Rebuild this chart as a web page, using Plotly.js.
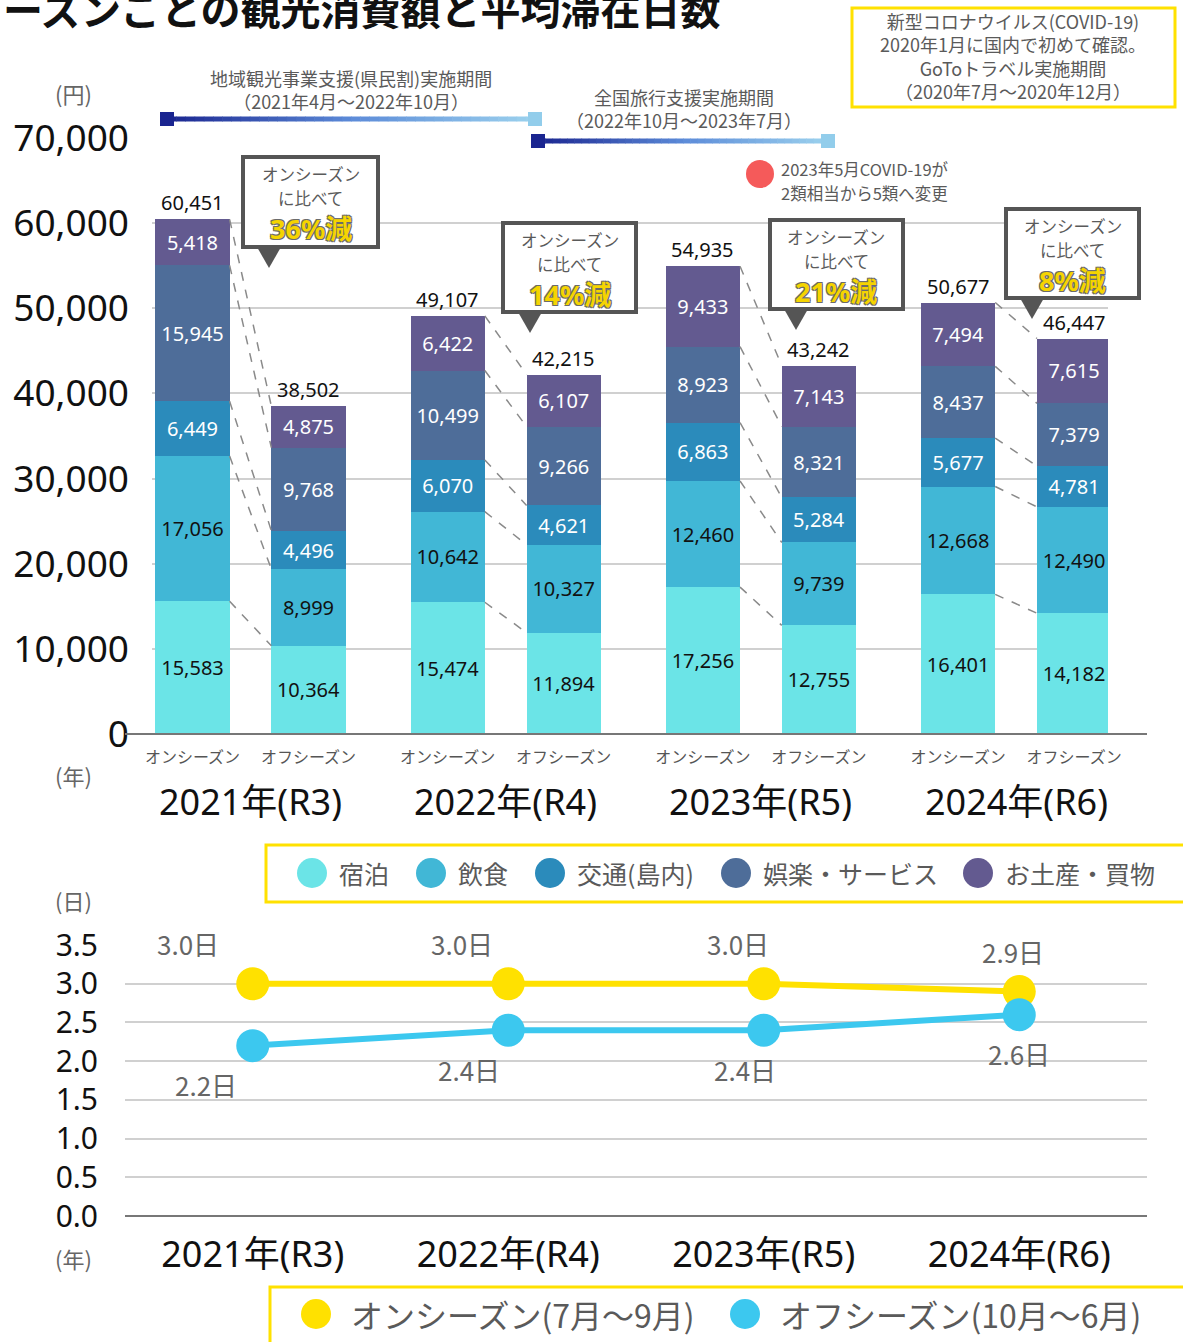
<!DOCTYPE html>
<html><head><meta charset="utf-8">
<script src="https://cdn.plot.ly/plotly-3.0.1.min.js"></script>
<style>html,body{margin:0;padding:0;background:#fff}#chart{width:1183px;height:1342px}</style>
</head><body><div id="chart"></div>
<script>
// ---------------- DATA ----------------
const titleText = 'ーズンごとの観光消費額と平均滞在日数';
const years = ['2021年(R3)','2022年(R4)','2023年(R5)','2024年(R6)'];
const seasons = ['オンシーズン','オフシーズン'];
const categories = ['宿泊','飲食','交通(島内)','娯楽・サービス','お土産・買物'];
// order: 2021 on, 2021 off, 2022 on, 2022 off, 2023 on, 2023 off, 2024 on, 2024 off
const lodging   = [15583,10364,15474,11894,17256,12755,16401,14182];
const food      = [17056, 8999,10642,10327,12460, 9739,12668,12490];
const transport = [ 6449, 4496, 6070, 4621, 6863, 5284, 5677, 4781];
const leisure   = [15945, 9768,10499, 9266, 8923, 8321, 8437, 7379];
const souvenir  = [ 5418, 4875, 6422, 6107, 9433, 7143, 7494, 7615];
const stayOn  = [3.0,3.0,3.0,2.9];
const stayOff = [2.2,2.4,2.4,2.6];
const stayLegend = ['オンシーズン(7月～9月)','オフシーズン(10月～6月)'];
const yenTicks = [0,10000,20000,30000,40000,50000,60000,70000];
const dayTicks = [0,0.5,1,1.5,2,2.5,3,3.5];
const noteLines = ['新型コロナウイルス(COVID-19)','2020年1月に国内で初めて確認。','GoToトラベル実施期間','（2020年7月～2020年12月）'];
const period1 = ['地域観光事業支援(県民割)実施期間','（2021年4月～2022年10月）'];
const period2 = ['全国旅行支援実施期間','（2022年10月～2023年7月）'];
const covidNote = ['2023年5月COVID-19が','2類相当から5類へ変更'];
const calloutHead = ['オンシーズン','に比べて'];

// ---------------- STYLE ----------------
const W = 1183, H = 1342;
const px = x => x / W, py = y => 1 - y / H;
const FONT = "'Noto Sans', 'Noto Sans CJK JP', sans-serif";
const JP = "'Noto Sans CJK JP', 'Noto Sans', sans-serif";
const catColors = ['#6BE4E7','#41B7D6','#2B8BBB','#4E6D99','#635A90'];
const catText = ['#111','#111','#fff','#fff','#fff'];
const GRAY = '#5a5a5a';
const YEL = '#FFE100', CYAN = '#3CC8EF';
const barW = 0.64;
const xpos = lodging.map((_, i) => Math.floor(i / 2) * 2.2 + (i % 2));
const series = [lodging, food, transport, leisure, souvenir];

const traces = [];
series.forEach((arr, k) => {
  traces.push({
    type: 'bar', x: xpos, y: arr, width: barW, xaxis: 'x', yaxis: 'y',
    marker: {color: catColors[k], line: {width: 0}},
    text: arr.map(v => v.toLocaleString('en-US')),
    textposition: 'inside', insidetextanchor: 'middle', textangle: 0,
    constraintext: 'none',
    textfont: {family: FONT, size: 20, color: catText[k]},
    hoverinfo: 'none', showlegend: false, name: categories[k]
  });
});
traces.push({
  type: 'scatter', mode: 'lines+markers', x: years, y: stayOn, xaxis: 'x2', yaxis: 'y2',
  line: {color: YEL, width: 6}, marker: {color: YEL, size: 33}, showlegend: false, hoverinfo: 'none'
});
traces.push({
  type: 'scatter', mode: 'lines+markers', x: years, y: stayOff, xaxis: 'x2', yaxis: 'y2',
  line: {color: CYAN, width: 6}, marker: {color: CYAN, size: 33}, showlegend: false, hoverinfo: 'none'
});

const totals = xpos.map((_, i) => series.reduce((s, a) => s + a[i], 0));
const shapes = [], ann = [];
const P = o => Object.assign({xref: 'paper', yref: 'paper', xanchor: 'center', yanchor: 'middle', showarrow: false}, o);

// x axis line of top chart
shapes.push({type: 'line', xref: 'paper', yref: 'paper', x0: px(125), x1: px(1147), y0: py(734), y1: py(734), line: {color: '#777', width: 2}});

// dashed connectors between on/off bars
for (let p = 0; p < 4; p++) {
  const a = 2 * p, b = 2 * p + 1;
  let ca = 0, cb = 0;
  series.forEach(arr => {
    ca += arr[a]; cb += arr[b];
    shapes.push({type: 'line', xref: 'x', yref: 'y', x0: xpos[a] + barW / 2, x1: xpos[b] - barW / 2, y0: ca, y1: cb,
      line: {color: '#8a8a8a', width: 1.5, dash: 'dash'}, layer: 'above'});
  });
}

// totals
totals.forEach((t, i) => ann.push({xref: 'x', yref: 'y', x: xpos[i], y: t, xanchor: 'center', yanchor: 'bottom', yshift: 1, showarrow: false,
  text: t.toLocaleString('en-US'), font: {family: FONT, size: 20, color: '#111'}}));

// year labels top
years.forEach((y, g) => ann.push({xref: 'x', yref: 'paper', x: (xpos[2 * g] + xpos[2 * g + 1]) / 2, y: py(801), xanchor: 'center', yanchor: 'middle',
  showarrow: false, text: y, font: {family: FONT, size: 36, color: '#111'}}));

// callouts
const callouts = [
  {x0: 243, y0: 157, x1: 378, y1: 247, tip: 269},
  {x0: 503, y0: 223, x1: 636, y1: 312, tip: 530},
  {x0: 770, y0: 220, x1: 903, y1: 309, tip: 796},
  {x0: 1006, y0: 209, x1: 1139, y1: 298, tip: 1032}
];
callouts.forEach((c, p) => {
  const pct = Math.round((1 - totals[2 * p + 1] / totals[2 * p]) * 100);
  shapes.push({type: 'rect', xref: 'paper', yref: 'paper', x0: px(c.x0), x1: px(c.x1), y0: py(c.y0), y1: py(c.y1),
    line: {color: '#555', width: 4}, fillcolor: '#fff', layer: 'above'});
  shapes.push({type: 'path', xref: 'paper', yref: 'paper', layer: 'above',
    path: `M ${px(c.tip - 12)} ${py(c.y1)} L ${px(c.tip + 12)} ${py(c.y1)} L ${px(c.tip)} ${py(c.y1 + 21)} Z`,
    fillcolor: '#555', line: {width: 0}});
  const cx = px((c.x0 + c.x1) / 2);
  calloutHead.forEach((h, j) => ann.push(P({x: cx, y: py(c.y0 + 17 + 24 * j), text: h, borderpad: 0,
    font: {family: JP, size: 16.5, color: GRAY}})));
  ann.push(P({x: cx, y: py(c.y0 + 71), text: '<b>' + pct + '%減</b>', borderpad: 0,
    font: {family: FONT, size: 27, color: '#F5D400', shadow: '-1px -1px 0 #6b6b6b, 1px -1px 0 #6b6b6b, -1px 1px 0 #6b6b6b, 1px 1px 0 #6b6b6b'}}));
});

// gradient period lines
function mix(c1, c2, t) {
  const h = c => [1, 3, 5].map(i => parseInt(c.substr(i, 2), 16));
  const a = h(c1), b = h(c2);
  return 'rgb(' + a.map((v, i) => Math.round(v + (b[i] - v) * t)).join(',') + ')';
}
function gradLine(xa, xb, y) {
  const n = 40, stops = ['#1A2590', '#5C8BD8', '#9CD2EE'];
  for (let i = 0; i < n; i++) {
    const t = (i + 0.5) / n;
    const col = t < 0.5 ? mix(stops[0], stops[1], t * 2) : mix(stops[1], stops[2], (t - 0.5) * 2);
    shapes.push({type: 'line', xref: 'paper', yref: 'paper', x0: px(xa + (xb - xa) * i / n), x1: px(xa + (xb - xa) * (i + 1) / n + 0.6),
      y0: py(y), y1: py(y), line: {color: col, width: 5}, layer: 'above'});
  }
  shapes.push({type: 'rect', xref: 'paper', yref: 'paper', x0: px(xa - 7), x1: px(xa + 7), y0: py(y - 7), y1: py(y + 7),
    fillcolor: '#1A2590', line: {width: 0}, layer: 'above'});
  shapes.push({type: 'rect', xref: 'paper', yref: 'paper', x0: px(xb - 7), x1: px(xb + 7), y0: py(y - 7), y1: py(y + 7),
    fillcolor: '#92CDEB', line: {width: 0}, layer: 'above'});
}
gradLine(167, 535, 119);
gradLine(538, 828, 141);
ann.push(P({x: px(351), y: py(89), text: period1.join('<br>'), font: {family: JP, size: 18, color: GRAY}}));
ann.push(P({x: px(684), y: py(109), text: period2.join('<br>'), font: {family: JP, size: 18, color: GRAY}}));

// covid note
shapes.push({type: 'circle', xref: 'paper', yref: 'paper', x0: px(746), x1: px(774), y0: py(160), y1: py(188),
  fillcolor: '#F55A5A', line: {width: 0}, layer: 'above'});
covidNote.forEach((t, j) => ann.push(P({x: px(780), y: py(169 + 24 * j), xanchor: 'left', align: 'left', text: t, borderpad: 0,
  font: {family: JP, size: 16.5, color: GRAY}})));

// note box top right
shapes.push({type: 'rect', xref: 'paper', yref: 'paper', x0: px(852), x1: px(1175), y0: py(8), y1: py(107),
  line: {color: YEL, width: 3}, fillcolor: 'rgba(0,0,0,0)'});
ann.push(P({x: px(1013), y: py(56), text: noteLines.join('<br>'), font: {family: JP, size: 18, color: GRAY}}));

// title
ann.push(P({x: px(723), y: py(8), xanchor: 'right', text: '<b>' + titleText + '</b>', font: {family: JP, size: 40, color: '#111'}}));

// unit labels
[['(円)', 93], ['(年)', 775], ['(日)', 900], ['(年)', 1258]].forEach(u =>
  ann.push(P({x: px(73), y: py(u[1]), text: u[0], font: {family: JP, size: 22, color: '#666'}})));

// legend 1 (categories)
shapes.push({type: 'rect', xref: 'paper', yref: 'paper', x0: px(266), x1: px(1195), y0: py(845), y1: py(902),
  line: {color: YEL, width: 3}, fillcolor: 'rgba(0,0,0,0)'});
const leg1Circle = [312, 431, 550, 736, 978];
categories.forEach((c, k) => {
  const cx = leg1Circle[k];
  shapes.push({type: 'circle', xref: 'paper', yref: 'paper', x0: px(cx - 15), x1: px(cx + 15), y0: py(858), y1: py(888),
    fillcolor: catColors[k], line: {width: 0}});
  ann.push(P({x: px(cx + 25), y: py(873), xanchor: 'left', text: c, font: {family: JP, size: 25, color: GRAY}}));
});

// legend 2 (stay days)
shapes.push({type: 'rect', xref: 'paper', yref: 'paper', x0: px(270), x1: px(1195), y0: py(1287), y1: py(1352),
  line: {color: YEL, width: 3}, fillcolor: 'rgba(0,0,0,0)'});
const leg2Circle = [316, 745];
stayLegend.forEach((t, k) => {
  const cx = leg2Circle[k];
  shapes.push({type: 'circle', xref: 'paper', yref: 'paper', x0: px(cx - 15), x1: px(cx + 15), y0: py(1299), y1: py(1329),
    fillcolor: k === 0 ? YEL : CYAN, line: {width: 0}});
  ann.push(P({x: px(cx + 33), y: py(1314), xanchor: 'left', text: t, font: {family: JP, size: 32, color: GRAY}}));
});

// line data labels
const onShift = [-65, -46, -26, -6], offShift = [-47, -39, -19, 0];
years.forEach((y, i) => {
  ann.push({xref: 'x2', yref: 'y2', x: y, y: stayOn[i], xshift: onShift[i], yshift: 40, xanchor: 'center', yanchor: 'middle', showarrow: false,
    text: stayOn[i].toFixed(1) + '日', font: {family: JP, size: 26, color: '#666'}});
  ann.push({xref: 'x2', yref: 'y2', x: y, y: stayOff[i], xshift: offShift[i], yshift: -39, xanchor: 'center', yanchor: 'middle', showarrow: false,
    text: stayOff[i].toFixed(1) + '日', font: {family: JP, size: 26, color: '#666'}});
});

const layout = {
  width: W, height: H, margin: {l: 0, r: 0, t: 0, b: 0}, paper_bgcolor: '#fff', plot_bgcolor: 'rgba(0,0,0,0)',
  barmode: 'stack', bargap: 0, showlegend: false, font: {family: FONT},
  xaxis: {domain: [px(152), px(1108)], range: [-0.349, 7.892], tickvals: xpos, ticktext: xpos.map((_, i) => seasons[i % 2]),
    tickfont: {family: JP, size: 16, color: '#555'}, showgrid: false, zeroline: false, showline: false, ticks: '',
    ticklabelstandoff: 12, fixedrange: true},
  yaxis: {domain: [py(734), py(138)], range: [0, 70000], tickvals: yenTicks, ticktext: yenTicks.map(v => v.toLocaleString('en-US')),
    tickfont: {family: FONT, size: 37, color: '#111'}, showgrid: true, gridcolor: '#d0d0d0', gridwidth: 2,
    zeroline: false, showline: false, ticks: '', ticklabelstandoff: 22, fixedrange: true},
  xaxis2: {anchor: 'y2', domain: [px(125), px(1147)], type: 'category', range: [-0.5, 3.5],
    tickfont: {family: FONT, size: 36, color: '#111'}, showgrid: false, zeroline: false, showline: false, ticks: '',
    ticklabelstandoff: 14, fixedrange: true},
  yaxis2: {anchor: 'x2', domain: [py(1216), py(945)], range: [0, 3.5], tickvals: dayTicks, ticktext: dayTicks.map(v => v.toFixed(1)),
    tickfont: {family: FONT, size: 30, color: '#111'}, showgrid: true, gridcolor: '#d0d0d0', gridwidth: 2,
    zeroline: true, zerolinecolor: '#777', zerolinewidth: 2, showline: false, ticks: '', ticklabelstandoff: 26, fixedrange: true},
  shapes: shapes, annotations: ann
};
Plotly.newPlot('chart', traces, layout, {displayModeBar: false, staticPlot: true});
</script>
</body></html>
